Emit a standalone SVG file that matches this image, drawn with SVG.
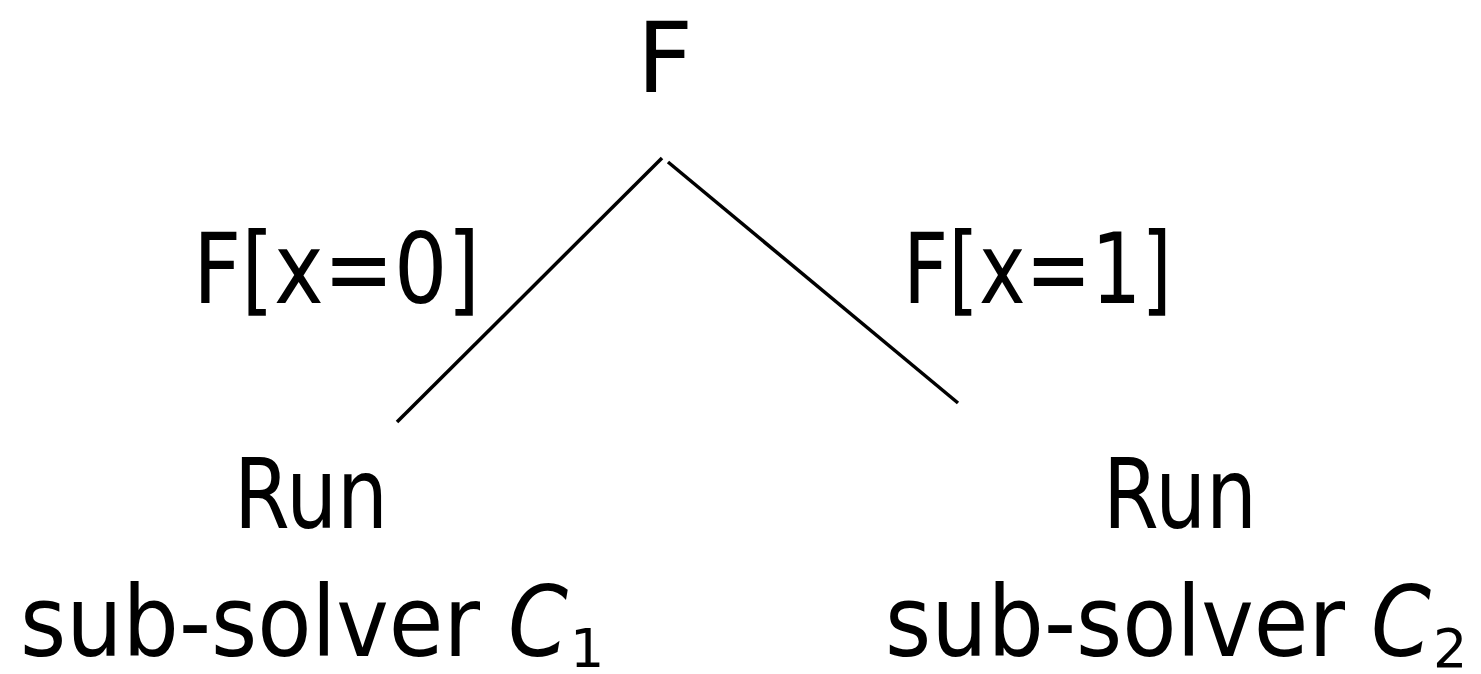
<svg xmlns="http://www.w3.org/2000/svg" width="1481" height="674" viewBox="0 0 1481 674">
<style>
text{font-family:"DejaVu Sans","Noto Sans",sans-serif;font-size:98px;fill:#000}
.it{font-style:italic}
.sub{font-size:54px}
.edge{stroke:#000;stroke-width:3.5;fill:none;stroke-linecap:butt}
</style>
<rect width="1481" height="674" fill="#fff"/>
<g id="connectors">
<line class="edge" x1="662" y1="158" x2="397" y2="422"/>
<line class="edge" x1="668" y1="162" x2="958" y2="403"/>
</g>
<g id="root"><text x="665" y="92" text-anchor="middle">F</text></g>
<g id="label-left"><text x="193" y="303" textLength="287" lengthAdjust="spacingAndGlyphs">F[x=0]</text></g>
<g id="label-right"><text x="903" y="303" textLength="269" lengthAdjust="spacingAndGlyphs">F[x=1]</text></g>
<g id="node-left">
<text x="234" y="528" textLength="154" lengthAdjust="spacingAndGlyphs">Run</text>
<text x="20" y="656" textLength="460" lengthAdjust="spacingAndGlyphs">sub-solver</text>
<text x="508" y="656" class="it" textLength="60" lengthAdjust="spacingAndGlyphs">C</text>
<text x="570" y="667" class="sub">1</text>
</g>
<g id="node-right">
<text x="1103" y="528" textLength="154" lengthAdjust="spacingAndGlyphs">Run</text>
<text x="885" y="656" textLength="460" lengthAdjust="spacingAndGlyphs">sub-solver</text>
<text x="1371" y="656" class="it" textLength="60" lengthAdjust="spacingAndGlyphs">C</text>
<text x="1433" y="667" class="sub">2</text>
</g>
</svg>
